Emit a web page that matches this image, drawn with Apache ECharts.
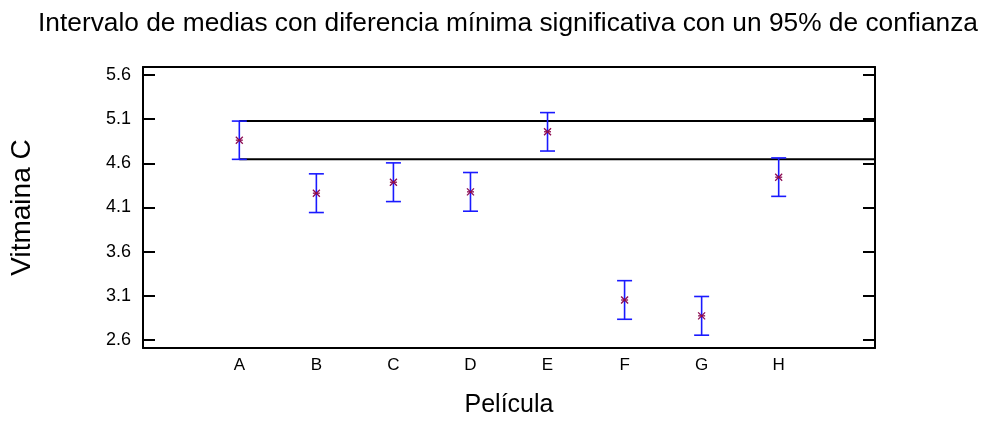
<!DOCTYPE html>
<html>
<head>
<meta charset="utf-8">
<script src="https://cdn.jsdelivr.net/npm/echarts@6/dist/echarts.min.js"></script>
<style>
  html, body { margin: 0; padding: 0; background: #fff; }
  #chart { width: 985px; height: 423px; }
</style>
</head>
<body>
<div id="chart"></div>
<script>
// Film types and vitamin C means with LSD intervals (95%)
const categories = ['A', 'B', 'C', 'D', 'E', 'F', 'G', 'H'];
const means = [4.862, 4.262, 4.386, 4.277, 4.957, 3.053, 2.874, 4.443];
const lower = [4.645, 4.043, 4.167, 4.058, 4.739, 2.835, 2.655, 4.226];
const upper = [5.078, 4.481, 4.605, 4.496, 5.174, 3.272, 3.093, 4.661];
const yTicks = [2.6, 3.1, 3.6, 4.1, 4.6, 5.1, 5.6];

const FONT = '"Liberation Sans", Arial, sans-serif';
const BAR_BLUE = '#1a1aff';
const MARK = '#8b0a50';

const chart = echarts.init(document.getElementById('chart'), null, { renderer: 'canvas' });

const idx = categories.map((c, i) => i);
const barData = idx.map(i => [i, means[i], lower[i], upper[i]]);

function renderBar(params, api) {
  const x = api.value(0);
  const m = api.coord([x, api.value(1)]);
  const lo = api.coord([x, api.value(2)]);
  const hi = api.coord([x, api.value(3)]);
  const cap = 7.5;
  const s = 3.5;
  const lineStyle = { stroke: BAR_BLUE, lineWidth: 1.6 };
  const markStyle = { stroke: MARK, lineWidth: 1.3 };
  return {
    type: 'group',
    children: [
      { type: 'line', shape: { x1: hi[0], y1: hi[1], x2: lo[0], y2: lo[1] }, style: lineStyle },
      { type: 'line', shape: { x1: hi[0] - cap, y1: hi[1], x2: hi[0] + cap, y2: hi[1] }, style: lineStyle },
      { type: 'line', shape: { x1: lo[0] - cap, y1: lo[1], x2: lo[0] + cap, y2: lo[1] }, style: lineStyle },
      { type: 'line', shape: { x1: m[0] - s, y1: m[1] - s, x2: m[0] + s, y2: m[1] + s }, style: markStyle },
      { type: 'line', shape: { x1: m[0] - s, y1: m[1] + s, x2: m[0] + s, y2: m[1] - s }, style: markStyle },
      { type: 'line', shape: { x1: m[0] - s, y1: m[1], x2: m[0] + s, y2: m[1] }, style: markStyle }
    ]
  };
}

// Reference band: the first film's interval, carried across to the right edge
function renderBand(params, api) {
  const x = api.value(0);
  const cs = params.coordSys;
  const right = cs.x + cs.width;
  const lo = api.coord([x, api.value(1)]);
  const hi = api.coord([x, api.value(2)]);
  const st = { stroke: '#000', lineWidth: 2 };
  return {
    type: 'group',
    children: [
      { type: 'line', shape: { x1: hi[0], y1: hi[1], x2: right, y2: hi[1] }, style: st },
      { type: 'line', shape: { x1: lo[0], y1: lo[1], x2: right, y2: lo[1] }, style: st }
    ]
  };
}

const axisLine = { show: true, onZero: false, lineStyle: { color: '#000', width: 2 } };
const ticks = { show: true, inside: true, length: 12, customValues: yTicks, lineStyle: { color: '#000', width: 2 } };

chart.setOption({
  animation: false,
  backgroundColor: '#fff',
  title: {
    text: 'Intervalo de medias con diferencia mínima significativa con un 95% de confianza',
    left: 503, top: 6, textAlign: 'center',
    textStyle: { fontFamily: FONT, fontSize: 26.3, fontWeight: 'normal', color: '#000' }
  },
  grid: { left: 143, top: 67, right: 110, bottom: 72 },
  xAxis: [
    {
      type: 'value', min: -1.25, max: 8.25,
      axisLine: axisLine,
      axisTick: { show: false },
      splitLine: { show: false },
      axisLabel: {
        customValues: idx,
        formatter: v => categories[Math.round(v)],
        fontFamily: FONT, fontSize: 17, color: '#000', margin: 9
      },
      name: 'Película', nameLocation: 'middle', nameGap: 45,
      nameTextStyle: { fontFamily: FONT, fontSize: 25, color: '#000' }
    },
    {
      type: 'value', min: -1.25, max: 8.25, position: 'top',
      axisLine: axisLine, axisTick: { show: false }, axisLabel: { show: false },
      splitLine: { show: false }
    }
  ],
  yAxis: [
    {
      type: 'value', min: 2.51, max: 5.69,
      axisLine: axisLine,
      axisTick: ticks,
      axisLabel: {
        customValues: yTicks,
        formatter: v => v.toFixed(1),
        fontFamily: FONT, fontSize: 18, color: '#000', margin: 12
      },
      splitLine: { show: false },
      name: 'Vitmaina C', nameLocation: 'middle', nameGap: 107, nameRotate: 90,
      nameTextStyle: { fontFamily: FONT, fontSize: 28, color: '#000' }
    },
    {
      type: 'value', min: 2.51, max: 5.69, position: 'right',
      axisLine: axisLine,
      axisTick: ticks,
      axisLabel: { show: false },
      splitLine: { show: false }
    }
  ],
  series: [
    {
      type: 'custom', xAxisIndex: 0, yAxisIndex: 0,
      renderItem: renderBand,
      data: [[0, lower[0], upper[0]]],
      z: 2
    },
    {
      type: 'custom', xAxisIndex: 0, yAxisIndex: 0,
      renderItem: renderBar,
      data: barData,
      z: 3
    }
  ]
});
</script>
</body>
</html>
